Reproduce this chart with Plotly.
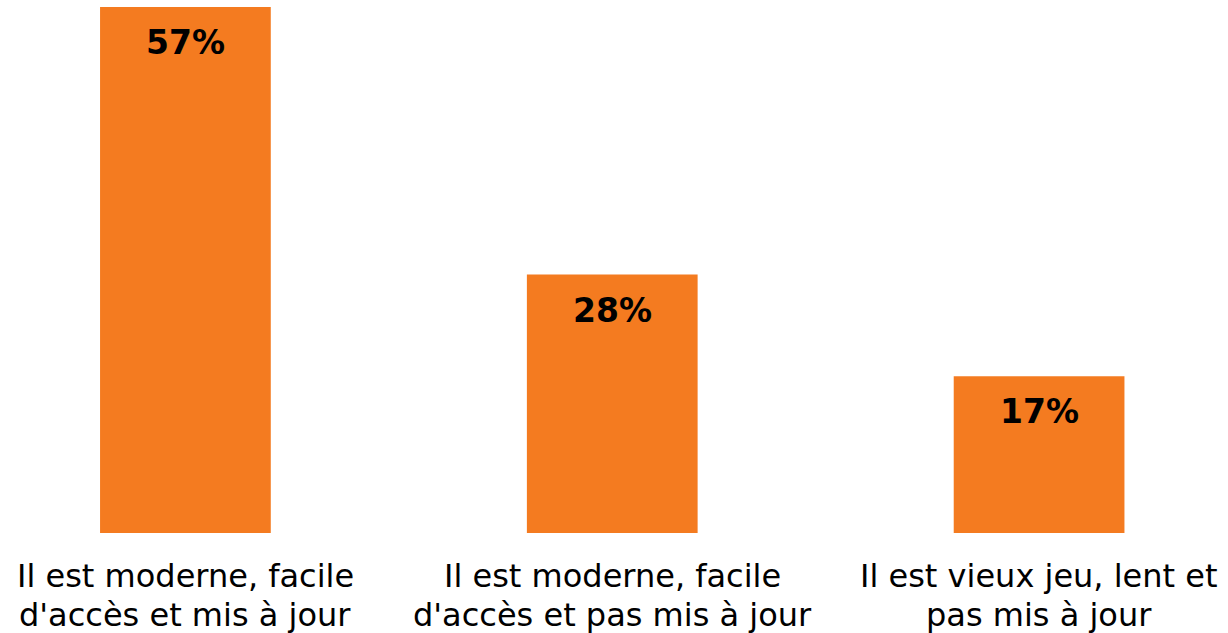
import plotly.graph_objects as go

categories = [
    "Il est moderne, facile<br>d'accès et mis à jour",
    "Il est moderne, facile<br>d'accès et pas mis à jour",
    "Il est vieux jeu, lent et<br>pas mis à jour",
]
values = [57, 28, 17]
labels = ["57%", "28%", "17%"]

BAR_COLOR = "#F47B20"
FONT = "DejaVu Sans, Verdana, sans-serif"

fig = go.Figure()
fig.add_trace(go.Bar(
    x=[0, 1, 2], y=values, marker=dict(color=BAR_COLOR, line=dict(width=0)),
    width=0.4, hoverinfo="skip",
))

for i, (v, t) in enumerate(zip(values, labels)):
    fig.add_annotation(x=i, y=v, text="<b>" + t + "</b>", showarrow=False,
                       yanchor="top", yshift=-14,
                       font=dict(family=FONT, size=33, color="#000000"))

# category labels, one annotation per line so line spacing can match
for i, cat in enumerate(categories):
    for j, line in enumerate(cat.split("<br>")):
        fig.add_annotation(x=i, xref="x", y=0, yref="paper", text=line,
                           showarrow=False, yanchor="top", yshift=-22 - 39 * j,
                           font=dict(family=FONT, size=32, color="#000000"))

fig.update_layout(
    width=1228, height=633,
    margin=dict(l=0, r=0, t=0, b=100),
    paper_bgcolor="white", plot_bgcolor="white",
    showlegend=False,
    xaxis=dict(
        range=[-0.4344, 2.4426], showgrid=False, zeroline=False, showline=False,
        ticks="", showticklabels=False,
    ),
    yaxis=dict(range=[0, 57.76], visible=False),
)

fig.write_html("out.html", config={"displayModeBar": False},
               post_script="document.body.style.margin='0';document.body.style.overflow='hidden';")
